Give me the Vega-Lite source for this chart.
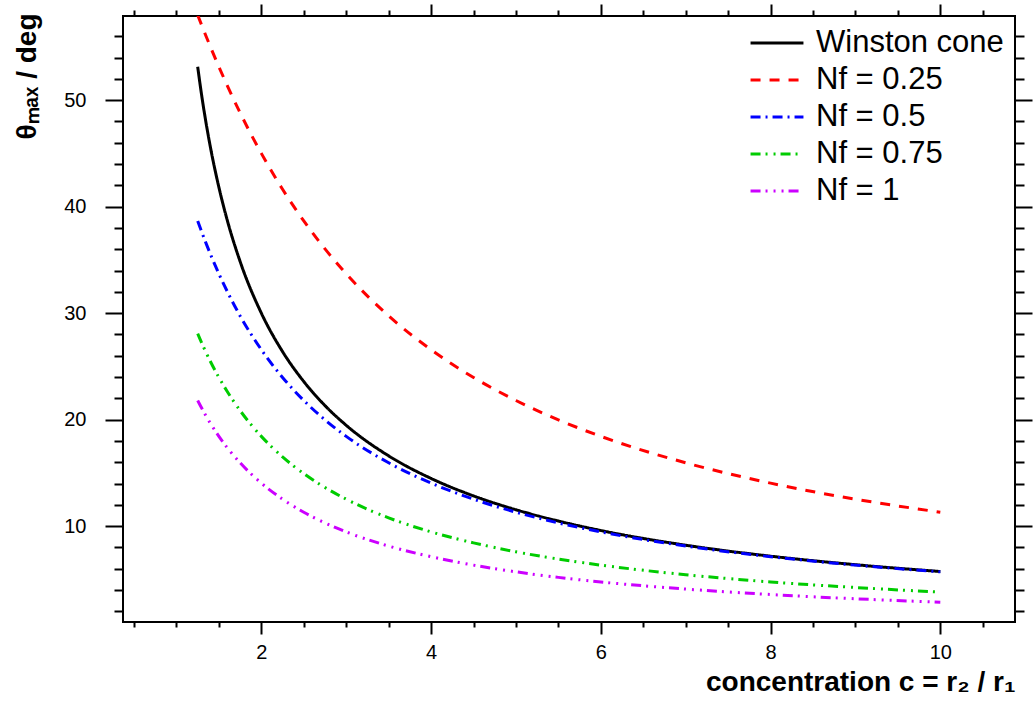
{
  "$schema": "https://vega.github.io/schema/vega-lite/v6.json",
  "width": 892,
  "height": 606,
  "autosize": "none",
  "padding": {"left": 123, "top": 16, "right": 18, "bottom": 84},
  "background": "white",
  "config": {
    "view": {"stroke": "#000", "strokeWidth": 2},
    "font": "Liberation Sans",
    "axis": {"grid": false, "domain": false, "tickColor": "#000", "tickWidth": 2, "labelColor": "#000", "titleColor": "#000", "labelFont": "Liberation Sans", "titleFont": "Liberation Sans", "labelFontSize": 20, "labelFlush": false, "labelOverlap": false}
  },
  "data": {"values": [
    {"c":1.25,"theta":53.13,"s":"Winston cone"},{"c":1.3,"theta":50.28,"s":"Winston cone"},{"c":1.35,"theta":47.79,"s":"Winston cone"},{"c":1.4,"theta":45.58,"s":"Winston cone"},{"c":1.5,"theta":41.81,"s":"Winston cone"},{"c":1.6,"theta":38.68,"s":"Winston cone"},{"c":1.75,"theta":34.85,"s":"Winston cone"},{"c":2,"theta":30.0,"s":"Winston cone"},{"c":2.25,"theta":26.39,"s":"Winston cone"},{"c":2.5,"theta":23.58,"s":"Winston cone"},{"c":2.75,"theta":21.32,"s":"Winston cone"},{"c":3,"theta":19.47,"s":"Winston cone"},{"c":3.5,"theta":16.6,"s":"Winston cone"},{"c":4,"theta":14.48,"s":"Winston cone"},{"c":4.5,"theta":12.84,"s":"Winston cone"},{"c":5,"theta":11.54,"s":"Winston cone"},{"c":5.5,"theta":10.48,"s":"Winston cone"},{"c":6,"theta":9.59,"s":"Winston cone"},{"c":7,"theta":8.21,"s":"Winston cone"},{"c":8,"theta":7.18,"s":"Winston cone"},{"c":9,"theta":6.38,"s":"Winston cone"},{"c":10,"theta":5.74,"s":"Winston cone"},
    {"c":1.25,"theta":57.99,"s":"Nf = 0.25"},{"c":1.3,"theta":56.98,"s":"Nf = 0.25"},{"c":1.35,"theta":55.98,"s":"Nf = 0.25"},{"c":1.4,"theta":55.01,"s":"Nf = 0.25"},{"c":1.5,"theta":53.13,"s":"Nf = 0.25"},{"c":1.6,"theta":51.34,"s":"Nf = 0.25"},{"c":1.75,"theta":48.81,"s":"Nf = 0.25"},{"c":2,"theta":45.0,"s":"Nf = 0.25"},{"c":2.25,"theta":41.63,"s":"Nf = 0.25"},{"c":2.5,"theta":38.66,"s":"Nf = 0.25"},{"c":2.75,"theta":36.03,"s":"Nf = 0.25"},{"c":3,"theta":33.69,"s":"Nf = 0.25"},{"c":3.5,"theta":29.74,"s":"Nf = 0.25"},{"c":4,"theta":26.57,"s":"Nf = 0.25"},{"c":4.5,"theta":23.96,"s":"Nf = 0.25"},{"c":5,"theta":21.8,"s":"Nf = 0.25"},{"c":5.5,"theta":19.98,"s":"Nf = 0.25"},{"c":6,"theta":18.43,"s":"Nf = 0.25"},{"c":7,"theta":15.95,"s":"Nf = 0.25"},{"c":8,"theta":14.04,"s":"Nf = 0.25"},{"c":9,"theta":12.53,"s":"Nf = 0.25"},{"c":10,"theta":11.31,"s":"Nf = 0.25"},
    {"c":1.25,"theta":38.66,"s":"Nf = 0.5"},{"c":1.3,"theta":37.57,"s":"Nf = 0.5"},{"c":1.35,"theta":36.53,"s":"Nf = 0.5"},{"c":1.4,"theta":35.54,"s":"Nf = 0.5"},{"c":1.5,"theta":33.69,"s":"Nf = 0.5"},{"c":1.6,"theta":32.01,"s":"Nf = 0.5"},{"c":1.75,"theta":29.74,"s":"Nf = 0.5"},{"c":2,"theta":26.57,"s":"Nf = 0.5"},{"c":2.25,"theta":23.96,"s":"Nf = 0.5"},{"c":2.5,"theta":21.8,"s":"Nf = 0.5"},{"c":2.75,"theta":19.98,"s":"Nf = 0.5"},{"c":3,"theta":18.43,"s":"Nf = 0.5"},{"c":3.5,"theta":15.95,"s":"Nf = 0.5"},{"c":4,"theta":14.04,"s":"Nf = 0.5"},{"c":4.5,"theta":12.53,"s":"Nf = 0.5"},{"c":5,"theta":11.31,"s":"Nf = 0.5"},{"c":5.5,"theta":10.3,"s":"Nf = 0.5"},{"c":6,"theta":9.46,"s":"Nf = 0.5"},{"c":7,"theta":8.13,"s":"Nf = 0.5"},{"c":8,"theta":7.13,"s":"Nf = 0.5"},{"c":9,"theta":6.34,"s":"Nf = 0.5"},{"c":10,"theta":5.71,"s":"Nf = 0.5"},
    {"c":1.25,"theta":28.07,"s":"Nf = 0.75"},{"c":1.3,"theta":27.15,"s":"Nf = 0.75"},{"c":1.35,"theta":26.28,"s":"Nf = 0.75"},{"c":1.4,"theta":25.46,"s":"Nf = 0.75"},{"c":1.5,"theta":23.96,"s":"Nf = 0.75"},{"c":1.6,"theta":22.62,"s":"Nf = 0.75"},{"c":1.75,"theta":20.85,"s":"Nf = 0.75"},{"c":2,"theta":18.43,"s":"Nf = 0.75"},{"c":2.25,"theta":16.5,"s":"Nf = 0.75"},{"c":2.5,"theta":14.93,"s":"Nf = 0.75"},{"c":2.75,"theta":13.63,"s":"Nf = 0.75"},{"c":3,"theta":12.53,"s":"Nf = 0.75"},{"c":3.5,"theta":10.78,"s":"Nf = 0.75"},{"c":4,"theta":9.46,"s":"Nf = 0.75"},{"c":4.5,"theta":8.43,"s":"Nf = 0.75"},{"c":5,"theta":7.59,"s":"Nf = 0.75"},{"c":5.5,"theta":6.91,"s":"Nf = 0.75"},{"c":6,"theta":6.34,"s":"Nf = 0.75"},{"c":7,"theta":5.44,"s":"Nf = 0.75"},{"c":8,"theta":4.76,"s":"Nf = 0.75"},{"c":9,"theta":4.24,"s":"Nf = 0.75"},{"c":10,"theta":3.81,"s":"Nf = 0.75"},
    {"c":1.25,"theta":21.8,"s":"Nf = 1"},{"c":1.3,"theta":21.04,"s":"Nf = 1"},{"c":1.35,"theta":20.32,"s":"Nf = 1"},{"c":1.4,"theta":19.65,"s":"Nf = 1"},{"c":1.5,"theta":18.43,"s":"Nf = 1"},{"c":1.6,"theta":17.35,"s":"Nf = 1"},{"c":1.75,"theta":15.95,"s":"Nf = 1"},{"c":2,"theta":14.04,"s":"Nf = 1"},{"c":2.25,"theta":12.53,"s":"Nf = 1"},{"c":2.5,"theta":11.31,"s":"Nf = 1"},{"c":2.75,"theta":10.3,"s":"Nf = 1"},{"c":3,"theta":9.46,"s":"Nf = 1"},{"c":3.5,"theta":8.13,"s":"Nf = 1"},{"c":4,"theta":7.13,"s":"Nf = 1"},{"c":4.5,"theta":6.34,"s":"Nf = 1"},{"c":5,"theta":5.71,"s":"Nf = 1"},{"c":5.5,"theta":5.19,"s":"Nf = 1"},{"c":6,"theta":4.76,"s":"Nf = 1"},{"c":7,"theta":4.09,"s":"Nf = 1"},{"c":8,"theta":3.58,"s":"Nf = 1"},{"c":9,"theta":3.18,"s":"Nf = 1"},{"c":10,"theta":2.86,"s":"Nf = 1"}
  ]},
  "resolve": {"axis": {"x": "independent", "y": "independent"}},
  "layer": [
    {
      "mark": {"type": "line", "strokeWidth": 3, "clip": true, "interpolate": "monotone"},
      "encoding": {
        "x": {"field": "c", "type": "quantitative",
          "scale": {"domain": [0.37, 10.88], "nice": false, "zero": false},
          "axis": {"orient": "bottom",
            "values": [0.5,1,1.5,2,2.5,3,3.5,4,4.5,5,5.5,6,6.5,7,7.5,8,8.5,9,9.5,10,10.5],
            "labelExpr": "datum.value % 2 === 0 ? format(datum.value, 'd') : ''",
            "tickSize": {"condition": {"test": "datum.value % 2 === 0", "value": 12}, "value": 5},
            "labelPadding": 8,
            "title": "concentration c = r₂ / r₁",
            "titleFontSize": 28, "titleFontWeight": "bold",
            "titleAlign": "right", "titleBaseline": "alphabetic", "titleAnchor": "end",
            "titleX": 892, "titleY": 68}},
        "y": {"field": "theta", "type": "quantitative",
          "scale": {"domain": [1, 57.9], "nice": false, "zero": false},
          "axis": {"orient": "left",
            "values": [2,4,6,8,10,12,14,16,18,20,22,24,26,28,30,32,34,36,38,40,42,44,46,48,50,52,54,56],
            "labelExpr": "datum.value % 10 === 0 ? format(datum.value, 'd') : ''",
            "tickSize": {"condition": {"test": "datum.value % 10 === 0", "value": 18}, "value": 9},
            "labelPadding": 19,
            "title": "θₘₐₓ / deg",
            "titleFontSize": 28, "titleFontWeight": "bold",
            "titleAngle": -90, "titleAlign": "right", "titleBaseline": "alphabetic",
            "titleX": -88, "titleY": -3}},
        "color": {"field": "s", "type": "nominal",
          "scale": {"domain": ["Winston cone", "Nf = 0.25", "Nf = 0.5", "Nf = 0.75", "Nf = 1"],
                    "range": ["#000000", "#ff0000", "#0000ff", "#00cc00", "#cc00ff"]},
          "legend": {"title": null, "orient": "none", "legendX": 626, "legendY": 12,
            "symbolType": "stroke", "symbolSize": 2800, "symbolStrokeWidth": 3,
            "labelFontSize": 31, "labelFont": "Liberation Sans", "labelColor": "#000", "labelLimit": 0,
            "labelOffset": 11, "clipHeight": 30, "rowPadding": 6}},
        "strokeDash": {"field": "s", "type": "nominal",
          "scale": {"domain": ["Winston cone", "Nf = 0.25", "Nf = 0.5", "Nf = 0.75", "Nf = 1"],
                    "range": [[1, 0], [10, 9], [10, 5, 2, 5], [10, 5, 2, 6, 2, 5], [10, 5, 2, 6, 2, 6, 2, 5]]},
          "legend": {"title": null, "orient": "none", "legendX": 626, "legendY": 12,
            "symbolType": "stroke", "symbolSize": 2800, "symbolStrokeWidth": 3,
            "labelFontSize": 31, "labelFont": "Liberation Sans", "labelColor": "#000", "labelLimit": 0,
            "labelOffset": 11, "clipHeight": 30, "rowPadding": 6}}
      }
    },
    {
      "mark": {"type": "line", "opacity": 0},
      "encoding": {
        "x": {"field": "c", "type": "quantitative",
          "axis": {"orient": "top", "labels": false, "title": null,
            "values": [0.5,1,1.5,2,2.5,3,3.5,4,4.5,5,5.5,6,6.5,7,7.5,8,8.5,9,9.5,10,10.5],
            "tickSize": {"condition": {"test": "datum.value % 2 === 0", "value": 12}, "value": 6}}},
        "y": {"field": "theta", "type": "quantitative",
          "axis": {"orient": "right", "labels": false, "title": null,
            "values": [2,4,6,8,10,12,14,16,18,20,22,24,26,28,30,32,34,36,38,40,42,44,46,48,50,52,54,56],
            "tickSize": {"condition": {"test": "datum.value % 10 === 0", "value": 17}, "value": 9}}},
        "detail": {"field": "s", "type": "nominal"}
      }
    }
  ]
}
